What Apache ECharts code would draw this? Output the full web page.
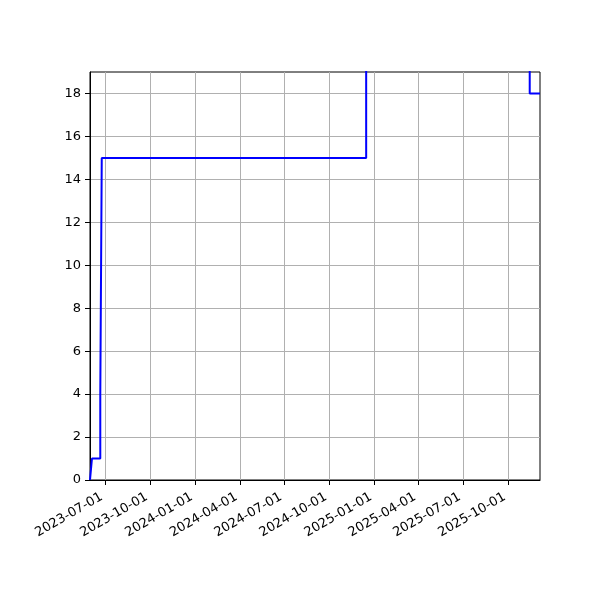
<!DOCTYPE html>
<html>
<head>
<meta charset="utf-8">
<script src="https://cdn.jsdelivr.net/npm/echarts@6.0.0/dist/echarts.min.js"></script>
<style>
  html, body { margin: 0; padding: 0; background: #fff; }
  #chart { width: 600px; height: 600px; }
</style>
</head>
<body>
<div id="chart"></div>
<script>
// step changes: value holds from its date until the next one
const stepDates = ['2023-05-31', '2023-06-04', '2023-06-21', '2023-06-24', '2024-12-15', '2025-11-14', '2025-12-05'];
const stepValues = [0, 1, 4, 15, 24, 18, 18];
const xTickLabels = ['2023-07-01', '2023-10-01', '2024-01-01', '2024-04-01', '2024-07-01',
  '2024-10-01', '2025-01-01', '2025-04-01', '2025-07-01', '2025-10-01'];
const yTicks = [0, 2, 4, 6, 8, 10, 12, 14, 16, 18];
const xRange = ['2023-05-31', '2025-12-05'];
const yRange = [0, 19];

function day(s) {
  const p = s.split('-').map(Number);
  return new Date(p[0], p[1] - 1, p[2]).getTime();
}

const chart = echarts.init(document.getElementById('chart'));
chart.setOption({
  animation: false,
  grid: {
    left: 90, top: 72, width: 450, height: 408,
    show: true, borderColor: '#000', borderWidth: 1
  },
  xAxis: {
    type: 'time',
    min: day(xRange[0]),
    max: day(xRange[1]),
    axisLine: { lineStyle: { color: '#000', width: 1 } },
    axisTick: { show: true, inside: false, length: 5, lineStyle: { color: '#000' },
      customValues: xTickLabels.map(day) },
    axisLabel: {
      customValues: xTickLabels.map(day),
      rotate: 30, margin: 14, padding: [0, 4, 0, 0],
      color: '#000', fontSize: 13, fontFamily: 'DejaVu Sans',
      formatter: '{yyyy}-{MM}-{dd}', hideOverlap: false
    },
    splitLine: { show: true, lineStyle: { color: '#b0b0b0', width: 1 } }
  },
  yAxis: {
    type: 'value',
    min: yRange[0],
    max: yRange[1],
    interval: 2,
    axisLine: { show: true, lineStyle: { color: '#000', width: 1 } },
    axisTick: { show: true, length: 5, lineStyle: { color: '#000' }, customValues: yTicks },
    axisLabel: { customValues: yTicks, margin: 9, color: '#000', fontSize: 13, fontFamily: 'DejaVu Sans' },
    splitLine: { show: true, lineStyle: { color: '#b0b0b0', width: 1 } }
  },
  series: [{
    type: 'line',
    step: 'end',
    clip: true,
    symbol: 'none',
    lineStyle: { color: '#0000ff', width: 2 },
    data: stepDates.map((d, i) => [day(d), stepValues[i]])
  }]
});
</script>
</body>
</html>
